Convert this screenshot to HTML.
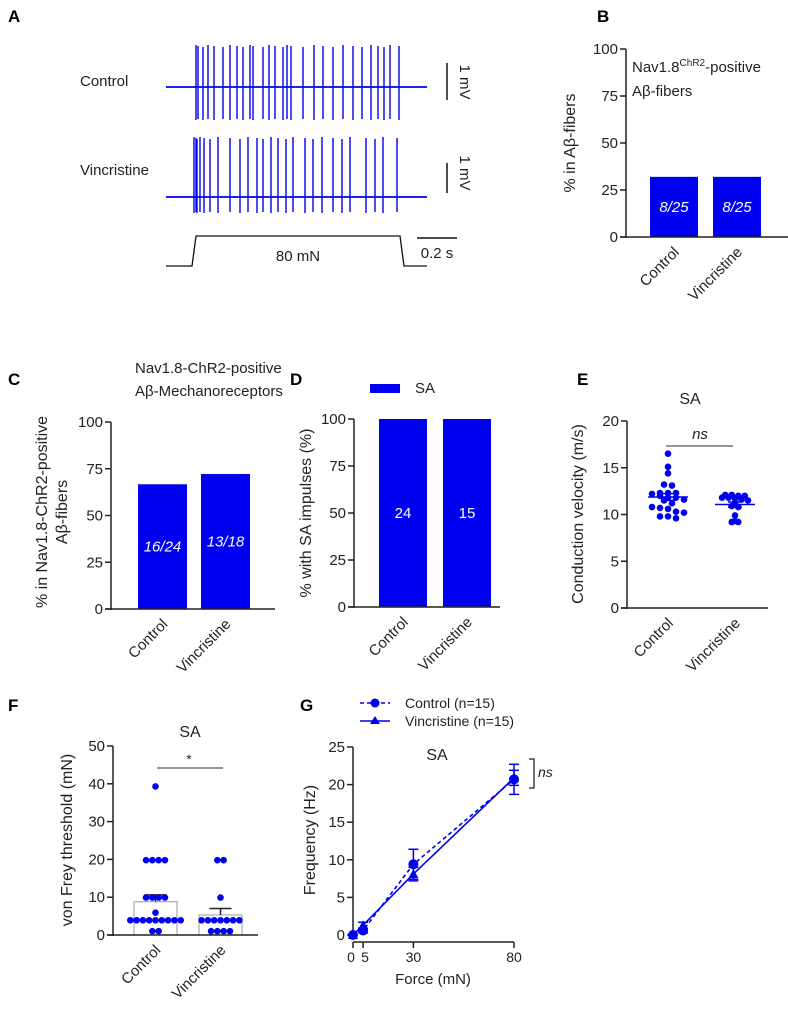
<!DOCTYPE html>
<html><head><meta charset="utf-8">
<style>
body{margin:0;background:#fff;}
svg{display:block;font-family:"Liberation Sans",Arial,sans-serif;}
</style></head>
<body>
<svg id="fig" width="788" height="1011" viewBox="0 0 788 1011" fill="#222"></svg>
<script>
// ===== DATA =====
const ctrlSpikes = [196,198,203,208,214,223,230,237,243,250,253,263,269,275,283,287,291,303,314,323,333,343,353,362,371,378,384,390,399];
const vincSpikes = [194,196,197,200,204,210,218,230,240,248,257,263,271,278,286,293,305,313,322,333,342,350,366,375,383,397];
const bCategories = ["Control","Vincristine"];
const bValues = [32,32];
const bLabels = ["8/25","8/25"];
const cValues = [66.7,72.2];
const cLabels = ["16/24","13/18"];
const dValues = [100,100];
const dLabels = ["24","15"];
const pctTicks = [0,25,50,75,100];
const eControl = [16.5,15.1,14.4,13.2,13.1,12.3,12.3,12.3,12.2,12.0,11.8,11.8,11.6,11.5,11.2,10.8,10.7,10.6,10.3,10.2,9.8,9.8,9.6];
const eVinc = [12.1,12.1,12.0,12.0,11.8,11.8,11.7,11.6,11.5,11.2,10.9,10.8,9.9,9.3,9.2,9.2];
const eTicks = [0,5,10,15,20];
const fControl = [39.3,19.8,19.8,19.8,19.8,9.9,9.9,9.9,9.9,5.9,3.9,3.9,3.9,3.9,3.9,3.9,3.9,3.9,3.9,1.0,1.0];
const fVinc = [19.8,19.8,9.9,3.9,3.9,3.9,3.9,3.9,3.9,3.9,1.0,1.0,1.0,1.0];
const fMeans = [8.8,5.3];
const fSem = [1.8,1.7];
const fTicks = [0,10,20,30,40,50];
const gForces = [0,5,30,80];
const gControl = [0,0.6,9.4,20.7];
const gControlErr = [0,0.3,2.0,2.0];
const gVinc = [0,1.3,8.1,20.9];
const gVincErr = [0,0.4,0.9,1.0];
const gYTicks = [0,5,10,15,20,25];
const gXTicks = [0,5,30,80];

const NS="http://www.w3.org/2000/svg";
const svg=document.getElementById('fig');
function el(tag,attrs,parent){const e=document.createElementNS(NS,tag);for(const k in attrs)e.setAttribute(k,attrs[k]);(parent||svg).appendChild(e);return e;}
function txt(s,x,y,attrs,parent){const t=el('text',Object.assign({x:x,y:y},attrs||{}),parent);t.textContent=s;return t;}
const BLUE="#0000f0", GREY="#222";

function yAxis(g,x,y0,y1,ticks,scale){
  const a=el('line',{x1:x,y1:y0+1,x2:x,y2:y1,stroke:GREY,'stroke-width':1.5},g);
  
  ticks.forEach(v=>{const y=scale(v);el('line',{x1:x-6,y1:y,x2:x,y2:y,stroke:GREY,'stroke-width':1.5},g);
    const t=txt(String(v),x-8,y+5,{'text-anchor':'end','font-size':15},g);
    });
}
function rotLabel(g,s,x,y,size){const t=txt(s,x,y,{'text-anchor':'middle','font-size':size||15,transform:`rotate(-90 ${x} ${y})`},g);return t;}
function catLabel(g,s,x,y){const t=txt(s,x,y,{'text-anchor':'end','font-size':15,transform:`rotate(-45 ${x} ${y})`},g);}
function panelLetter(s,x,y){const t=txt(s,x,y,{'font-size':17,'font-weight':'bold',fill:'#000'});}

// ===== Panel A =====
(function(){
  const g=el('g',{});
  panelLetter('A',8,22);
  txt('Control',80,86,{'font-size':15},g);
  txt('Vincristine',80,175,{'font-size':15},g);
  function trace(spikes,base,top,bot,name){
    const tg=el('g',{},g);
    el('line',{x1:166,y1:base,x2:427,y2:base,stroke:BLUE,'stroke-width':1.8},tg);
    spikes.forEach((x,i)=>{const s=el('line',{x1:x,y1:top+(i%3),x2:x,y2:bot-(i%2),stroke:BLUE,'stroke-width':1.4},tg);
      });
  }
  trace(ctrlSpikes,87,45,120,'control-trace');
  trace(vincSpikes,197,137,213,'vincristine-trace');
  const st=el('polyline',{points:'166,266 192,266 196,236 400,236 404,266 427,266',fill:'none',stroke:'#111','stroke-width':1.3},g);
  
  txt('80 mN',298,261,{'text-anchor':'middle','font-size':15},g);
  el('line',{x1:447,y1:63,x2:447,y2:100,stroke:'#111','stroke-width':1.5},g);
  txt('1 mV',460,82,{'text-anchor':'middle','font-size':15,transform:'rotate(90 460 82)'},g);
  el('line',{x1:447,y1:163,x2:447,y2:193,stroke:'#111','stroke-width':1.5},g);
  txt('1 mV',460,173,{'text-anchor':'middle','font-size':15,transform:'rotate(90 460 173)'},g);
  el('line',{x1:417,y1:238,x2:457,y2:238,stroke:'#111','stroke-width':1.5},g);
  txt('0.2 s',437,258,{'text-anchor':'middle','font-size':15},g);
})();

// ===== Bar panels =====
function barPanel(name,axisX,y0,y100,barXs,bw,values,labels,italic,axisEnd){
  const g=el('g',{});
  const sc=v=>y0-(v/100)*(y0-y100);
  values.forEach((v,i)=>{const b=el('rect',{x:barXs[i],y:sc(v),width:bw,height:y0-sc(v),fill:BLUE},g);
    
    const lt=txt(labels[i],barXs[i]+bw/2,(y0+Math.min(sc(v),y0-40))/2+5,{'text-anchor':'middle','font-size':15,fill:'#ffffff','font-style':italic?'italic':'normal'},g);
    
  });
  yAxis(g,axisX,y0,y100,pctTicks,sc);
  el('line',{x1:axisX-6,y1:y0,x2:axisEnd,y2:y0,stroke:GREY,'stroke-width':1.5},g);
  bCategories.forEach((c,i)=>catLabel(g,c,barXs[i]+bw/2+6,y0+16));
  return g;
}
// B
(function(){
  panelLetter('B',597,22);
  const g=barPanel('panel-b-chart',626,237,49,[650,713],48,bValues,bLabels,true,788);
  const t=txt('Nav1.8',632,72,{'font-size':15},g);
  const sup=el('tspan',{'font-size':10,dy:-6},t);sup.textContent='ChR2';
  const r=el('tspan',{dy:6},t);r.textContent='-positive';
  txt('Aβ-fibers',632,96,{'font-size':15},g);
  rotLabel(g,'% in Aβ-fibers',575,143,16);
})();
// C
(function(){
  panelLetter('C',8,385);
  const g=barPanel('panel-c-chart',111,609,422,[138,201],49,cValues,cLabels,true,275);
  txt('Nav1.8-ChR2-positive',135,373,{'font-size':15},g);
  txt('Aβ-Mechanoreceptors',135,396,{'font-size':15},g);
  rotLabel(g,'% in Nav1.8-ChR2-positive',47,512,16);
  rotLabel(g,'Aβ-fibers',67,512,16);
})();
// D
(function(){
  panelLetter('D',290,385);
  const g=barPanel('panel-d-chart',354,607,419,[379,443],48,dValues,dLabels,false,500);
  const lg=el('rect',{x:370,y:384,width:30,height:9,fill:BLUE},g);
  
  txt('SA',415,393,{'font-size':15},g);
  rotLabel(g,'% with SA impulses (%)',311,513,16);
})();

// swarm offsets
function swarm(vals,binW,spacing){
  const counts={},idx={};vals.forEach(v=>{const b=Math.round(v/binW);counts[b]=(counts[b]||0)+1;});
  return vals.map(v=>{const b=Math.round(v/binW);idx[b]=(idx[b]||0);const n=counts[b],k=idx[b]++;return (k-(n-1)/2)*spacing;});
}
function mean(a){return a.reduce((s,v)=>s+v,0)/a.length;}
function sem(a){const m=mean(a);return Math.sqrt(a.reduce((s,v)=>s+(v-m)*(v-m),0)/(a.length-1))/Math.sqrt(a.length);}

// ===== Panel E =====
(function(){
  panelLetter('E',577,385);
  const g=el('g',{});
  const y0=608,y20=421,sc=v=>y0-v*(y0-y20)/20;
  yAxis(g,627,y0,y20,eTicks,sc);
  el('line',{x1:621,y1:y0,x2:768,y2:y0,stroke:GREY,'stroke-width':1.5},g);
  const cx=[668,735];
  const bins=[0.7,0.45],sp=[8,6.5];
  [eControl,eVinc].forEach((arr,i)=>{
    const off=swarm(arr,bins[i],sp[i]);
    arr.forEach((v,j)=>{const c=el('circle',{cx:cx[i]+off[j],cy:sc(v),r:3.3,fill:BLUE},g);
      });
    const m=mean(arr),s=sem(arr);
    el('line',{x1:cx[i]-20,y1:sc(m),x2:cx[i]+20,y2:sc(m),stroke:BLUE,'stroke-width':1.5},g);
    el('line',{x1:cx[i],y1:sc(m-s),x2:cx[i],y2:sc(m+s),stroke:BLUE,'stroke-width':1.5},g);
    el('line',{x1:cx[i]-7,y1:sc(m-s),x2:cx[i]+7,y2:sc(m-s),stroke:BLUE,'stroke-width':1.5},g);
    el('line',{x1:cx[i]-7,y1:sc(m+s),x2:cx[i]+7,y2:sc(m+s),stroke:BLUE,'stroke-width':1.5},g);
    catLabel(g,bCategories[i],cx[i]+6,y0+16);
  });
  el('line',{x1:666,y1:446,x2:733,y2:446,stroke:'#555','stroke-width':1.3},g);
  txt('ns',700,439,{'text-anchor':'middle','font-size':15,'font-style':'italic'},g);
  txt('SA',690,404,{'text-anchor':'middle','font-size':16},g);
  rotLabel(g,'Conduction velocity (m/s)',583,514,16);
})();

// ===== Panel F =====
(function(){
  panelLetter('F',8,711);
  const g=el('g',{});
  const y0=935,y50=746,sc=v=>y0-v*(y0-y50)/50;
  const bx=[134,199],bw=43;
  [fControl,fVinc].forEach((arr,i)=>{
    const b=el('rect',{x:bx[i],y:sc(fMeans[i]),width:bw,height:y0-sc(fMeans[i]),fill:'#fff',stroke:'#999','stroke-width':1},g);
    
    const cx=bx[i]+bw/2;
    el('line',{x1:cx,y1:sc(fMeans[i]),x2:cx,y2:sc(fMeans[i]+fSem[i]),stroke:GREY,'stroke-width':1.5},g);
    el('line',{x1:cx-11,y1:sc(fMeans[i]+fSem[i]),x2:cx+11,y2:sc(fMeans[i]+fSem[i]),stroke:GREY,'stroke-width':1.5},g);
    const off=swarm(arr,1,6.3);
    arr.forEach((v,j)=>{const c=el('circle',{cx:cx+off[j],cy:sc(v),r:3.3,fill:BLUE},g);
      });
    catLabel(g,bCategories[i],cx+6,y0+16);
  });
  yAxis(g,113,y0,y50,fTicks,sc);
  el('line',{x1:107,y1:y0,x2:258,y2:y0,stroke:GREY,'stroke-width':1.5},g);
  el('line',{x1:157,y1:768,x2:223,y2:768,stroke:'#555','stroke-width':1.3},g);
  txt('*',189,764,{'text-anchor':'middle','font-size':14},g);
  txt('SA',190,737,{'text-anchor':'middle','font-size':16},g);
  rotLabel(g,'von  Frey threshold (mN)',72,840,16);
})();

// ===== Panel G =====
(function(){
  panelLetter('G',300,711);
  const g=el('g',{});
  const y0=935,y25=747,sy=v=>y0-v*(y0-y25)/25,sx=f=>353+f*(514-353)/80;
  yAxis(g,353,y0,y25,gYTicks,sy);
  el('line',{x1:353,y1:942,x2:514,y2:942,stroke:GREY,'stroke-width':1.5},g);
  gXTicks.forEach(f=>{el('line',{x1:sx(f),y1:942,x2:sx(f),y2:948,stroke:GREY,'stroke-width':1.5},g);
    const t=txt(String(f),sx(f)+(f===0?-2:f===5?2:0),962,{'text-anchor':'middle','font-size':14},g);
    });
  function series(vals,errs,dash,marker,name){
    const sg=el('g',{},g);
    const pts=gForces.map((f,i)=>sx(f)+','+sy(vals[i])).join(' ');
    el('polyline',{points:pts,fill:'none',stroke:BLUE,'stroke-width':1.6,'stroke-dasharray':dash},sg);
    gForces.forEach((f,i)=>{const x=sx(f),y=sy(vals[i]);
      if(errs[i]>0){el('line',{x1:x,y1:sy(vals[i]-errs[i]),x2:x,y2:sy(vals[i]+errs[i]),stroke:BLUE,'stroke-width':1.5},sg);
        [vals[i]-errs[i],vals[i]+errs[i]].forEach(v=>el('line',{x1:x-5,y1:sy(v),x2:x+5,y2:sy(v),stroke:BLUE,'stroke-width':1.5},sg));}
      const m=marker==='c'?el('circle',{cx:x,cy:y,r:5,fill:BLUE},sg):el('polygon',{points:`${x},${y-5} ${x-5},${y+4} ${x+5},${y+4}`,fill:BLUE},sg);
      });
  }
  series(gVinc,gVincErr,'none','t','vincristine-series');
  series(gControl,gControlErr,'4,3','c','control-series');
  const lg=el('g',{},g);
  el('line',{x1:360,y1:703,x2:390,y2:703,stroke:BLUE,'stroke-width':1.5,'stroke-dasharray':'4,3'},lg);
  el('circle',{cx:375,cy:703,r:4.5,fill:BLUE},lg);
  txt('Control (n=15)',405,708,{'font-size':14},lg);
  el('line',{x1:360,y1:721,x2:390,y2:721,stroke:BLUE,'stroke-width':1.5},lg);
  el('polygon',{points:'375,716 370,724 380,724',fill:BLUE},lg);
  txt('Vincristine (n=15)',405,726,{'font-size':14},lg);
  txt('SA',437,760,{'text-anchor':'middle','font-size':16},g);
  el('polyline',{points:'529,759 534,759 534,788 529,788',fill:'none',stroke:GREY,'stroke-width':1.3},g);
  txt('ns',538,777,{'font-size':14,'font-style':'italic'},g);
  rotLabel(g,'Frequency (Hz)',315,840,16);
  const xl=txt('Force (mN)',433,984,{'text-anchor':'middle','font-size':15},g);
  
})();
</script>
</body></html>
